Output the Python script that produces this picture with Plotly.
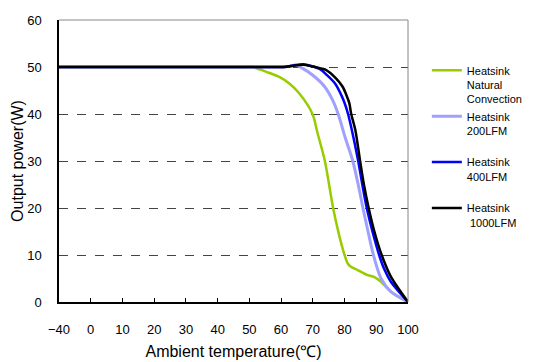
import plotly.graph_objects as go

# ---- data ----
tick_vals = [-10, 0, 10, 20, 30, 40, 50, 60, 70, 80, 90, 100]
tick_text = ["\u221240", "0", "10", "20", "30", "40", "50", "60", "70", "80", "90", "100"]

nat_t = [-40, 0, 10, 20, 30, 40, 47, 51, 55.2, 59.4, 62.6, 65.7, 69.9, 71.5, 73.8, 76.4, 78.2, 80.0, 81.0, 82.0, 84.1, 87.3, 89.4, 91.5, 94.6, 100]
nat_p = [50, 50, 50, 50, 50, 50, 50, 50, 49.0, 47.9, 46.5, 44.4, 40.0, 35.9, 30.0, 20.0, 14.5, 10.0, 8.2, 7.5, 6.8, 5.7, 5.3, 4.3, 2.2, 0]

l200_t = [-40, 0, 10, 20, 30, 40, 50, 57, 60, 62, 64.7, 66.8, 69.9, 73.5, 76.2, 78.0, 80.2, 82.6, 84.3, 85.8, 87.4, 89.1, 91.5, 94.6, 100]
l200_p = [50, 50, 50, 50, 50, 50, 50, 50, 50, 50.1, 50.4, 49.7, 48.3, 46.0, 43.0, 40.0, 35.0, 30.0, 25.0, 20.0, 15.0, 10.0, 5.0, 2.2, 0]

l400_t = [-40, 0, 10, 20, 30, 40, 50, 58, 61, 64, 67, 69.5, 72.6, 74.1, 77.0, 79.2, 80.4, 81.1, 82.3, 84.3, 85.6, 87.0, 88.8, 90.9, 92.5, 94.6, 100]
l400_p = [50, 50, 50, 50, 50, 50, 50, 50, 50, 50.3, 50.6, 50.2, 49.4, 48.5, 46.5, 43.7, 41.6, 40.0, 36.6, 30.0, 25.0, 20.0, 15.0, 10.0, 7.0, 4.3, 0]

l1000_t = [-40, 0, 10, 20, 30, 40, 50, 58, 61, 63, 67, 72.6, 74.1, 77.3, 79.4, 80.6, 81.5, 82.1, 83.4, 84.9, 86.1, 87.6, 89.4, 91.7, 94.6, 100]
l1000_p = [50, 50, 50, 50, 50, 50, 50, 50, 50, 50.2, 50.5, 49.7, 49.4, 47.6, 45.8, 44.0, 42.3, 40.0, 36.6, 30.0, 25.0, 20.0, 15.0, 10.0, 5.4, 0]

names = ["Heatsink<br>Natural<br>Convection", "Heatsink<br>200LFM<br> ", "Heatsink<br>400LFM<br> ", "Heatsink<br> 1000LFM<br> "]
colors = ["#99CC00", "#A0A0FF", "#0000FF", "#000000"]
widths = [2.5, 3, 2.5, 2.5]


def to_axis(t):
    # the -40 label sits one tick-step left of 0 on the chart's axis
    return t / 4 if t < 0 else t


series = [(nat_t, nat_p), (l200_t, l200_p), (l400_t, l400_p), (l1000_t, l1000_p)]

fig = go.Figure()
for (t, p), nm, c, w in zip(series, names, colors, widths):
    fig.add_trace(go.Scatter(
        x=[to_axis(v) for v in t], y=p, name=nm, mode="lines",
        line=dict(color=c, width=w, shape="spline", smoothing=0.8),
    ))

font = "Liberation Sans, Arial, sans-serif"
# page body adds an 8px offset, so the figure is 8px smaller than the window
fig.update_layout(
    width=539, height=354,
    margin=dict(l=51, r=139, t=12, b=60),
    paper_bgcolor="white", plot_bgcolor="white",
    font=dict(family=font, color="black", size=13),
    showlegend=True,
    legend=dict(
        x=1.054, y=0.87, xanchor="left", yanchor="top",
        valign="top", font=dict(size=11, color="black"),
        tracegroupgap=0, bgcolor="rgba(0,0,0,0)",
    ),
    xaxis=dict(
        range=[-10, 100], tickmode="array", tickvals=tick_vals, ticktext=tick_text,
        ticks="inside", ticklen=4, tickcolor="black", showgrid=False, zeroline=False,
        showline=True, linecolor="black", linewidth=1.5, automargin=False,
        ticklabelstandoff=15,
        title=dict(text="Ambient temperature(\u2103)", font=dict(size=16), standoff=9),
    ),
    yaxis=dict(
        range=[0, 60], tickvals=[0, 10, 20, 30, 40, 50, 60], automargin=False,
        ticks="", showgrid=True, gridcolor="#444444", griddash="dash", gridwidth=1,
        zeroline=False, showline=True, linecolor="black", linewidth=1.5,
        ticklabelstandoff=13,
        title=dict(text="Output power(W)", font=dict(size=16), standoff=0),
    ),
    shapes=[
        dict(type="line", xref="paper", yref="paper", x0=0, x1=1, y0=1, y1=1,
             line=dict(color="#888888", width=1)),
        dict(type="line", xref="paper", yref="paper", x0=1, x1=1, y0=0, y1=1,
             line=dict(color="#888888", width=1)),
    ],
)

fig.write_html("out.html")
